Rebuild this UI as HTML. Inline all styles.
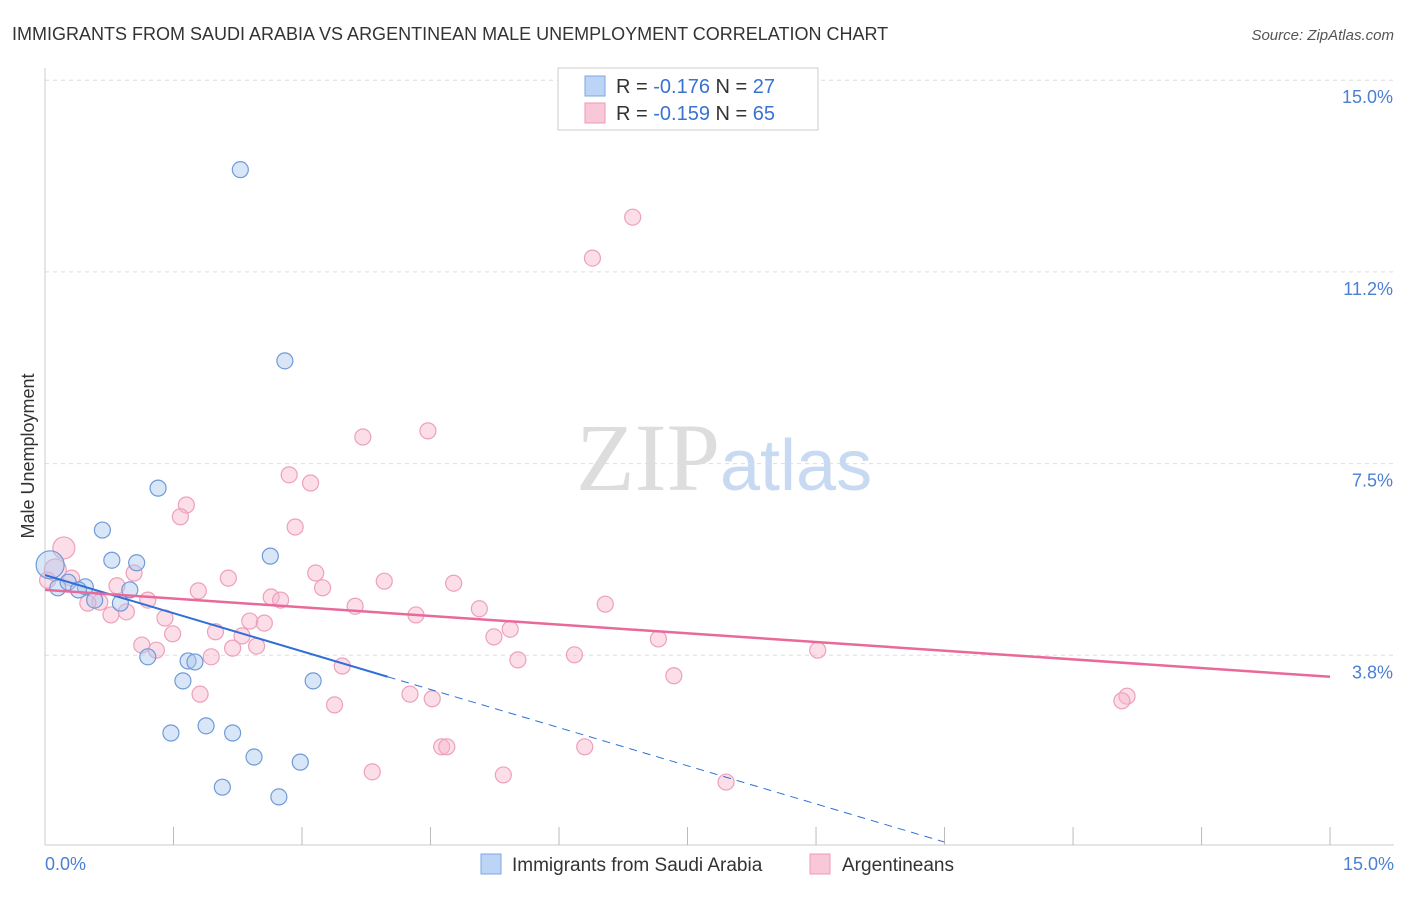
<!DOCTYPE html>
<html><head><meta charset="utf-8"><style>
body{margin:0;background:#fff;font-family:"Liberation Sans",sans-serif;}
</style></head><body>
<svg width="1406" height="892" viewBox="0 0 1406 892" xmlns="http://www.w3.org/2000/svg" font-family="Liberation Sans, sans-serif">
<text x="12" y="40" font-size="18" fill="#333">IMMIGRANTS FROM SAUDI ARABIA VS ARGENTINEAN MALE UNEMPLOYMENT CORRELATION CHART</text>
<text x="1394" y="40" font-size="15" fill="#555" font-style="italic" text-anchor="end">Source: ZipAtlas.com</text>
<text x="720" y="490" font-size="96" fill="#ddd" text-anchor="end" font-family="Liberation Serif, serif">ZIP</text>
<text x="720" y="490" font-size="72" fill="#c8daf2">atlas</text>
<g id="grid"></g>
<line x1="45" y1="68" x2="45" y2="845" stroke="#ccc"/>
<line x1="45" y1="845" x2="1394" y2="845" stroke="#ccc"/>
<g id="ticks"></g>
<text transform="translate(34,456) rotate(-90)" font-size="18" fill="#333" text-anchor="middle">Male Unemployment</text>
<text x="45" y="870" font-size="18" fill="#4a7fd4">0.0%</text>
<text x="1394" y="870" font-size="18" fill="#4a7fd4" text-anchor="end">15.0%</text>
<g id="pts"></g>
<g id="trends"></g>
<g>
<rect x="558" y="68" width="260" height="62" fill="#fff" stroke="#ccc"/>
<rect x="585" y="76" width="20" height="20" fill="#bcd4f5" stroke="#7fa6e0"/>
<text x="616" y="93" font-size="20" fill="#333">R = <tspan fill="#3a72d0">-0.176</tspan>   N = <tspan fill="#3a72d0">27</tspan></text>
<rect x="585" y="103" width="20" height="20" fill="#f9c8d8" stroke="#ee9ab5"/>
<text x="616" y="120" font-size="20" fill="#333">R = <tspan fill="#3a72d0">-0.159</tspan>   N = <tspan fill="#3a72d0">65</tspan></text>
</g>
<g>
<rect x="481" y="854" width="20" height="20" fill="#bcd4f5" stroke="#7fa6e0"/>
<text x="512" y="871" font-size="19" fill="#333">Immigrants from Saudi Arabia</text>
<rect x="810" y="854" width="20" height="20" fill="#f9c8d8" stroke="#ee9ab5"/>
<text x="842" y="871" font-size="19" fill="#333">Argentineans</text>
</g>
</svg>
<script>
const yTicks=[15.0,11.25,7.5,3.75];
const yTickLabels=["15.0%","11.2%","7.5%","3.8%"];
const xTicks=[1.5,3,4.5,6,7.5,9,10.5,12,13.5,15];
const blueX=[2.28,2.80,1.32,0.67,0.78,1.07,2.63,0.15,0.27,0.47,0.39,0.99,0.58,0.88,1.20,1.67,1.75,1.61,3.13,1.88,1.47,2.19,2.44,2.98,2.07,2.73,0.06];
const blueY=[13.25,9.51,7.02,6.20,5.61,5.56,5.69,5.07,5.18,5.09,5.03,5.03,4.83,4.77,3.72,3.64,3.62,3.25,3.25,2.37,2.23,2.23,1.76,1.66,1.17,0.98,5.52];
const pinkX=[6.86,6.39,4.47,3.71,2.85,3.10,1.65,1.58,2.92,0.22,0.12,1.04,3.16,2.14,3.96,4.77,0.84,3.24,1.79,0.31,2.64,2.75,1.20,0.64,0.50,3.62,6.54,5.07,4.33,0.77,0.95,1.40,2.39,2.56,1.99,1.49,2.30,5.43,5.24,7.16,1.13,1.30,2.47,2.19,9.02,6.18,1.94,5.52,3.47,7.34,1.81,4.26,4.52,12.63,12.57,3.38,4.63,4.69,6.30,3.82,5.35,7.95,0.03];
const pinkY=[12.32,11.52,8.14,8.02,7.28,7.12,6.69,6.46,6.26,5.85,5.42,5.36,5.36,5.26,5.20,5.16,5.11,5.07,5.01,5.26,4.89,4.83,4.83,4.79,4.77,4.71,4.75,4.66,4.54,4.54,4.60,4.48,4.42,4.38,4.21,4.17,4.13,4.26,4.11,4.07,3.95,3.85,3.93,3.89,3.85,3.76,3.72,3.66,3.54,3.35,2.99,2.99,2.90,2.95,2.86,2.78,1.96,1.96,1.96,1.47,1.41,1.27,5.22];
const blueTrend=[5.32,3.33,4.0,10.5];
const pinkTrend=[5.03,3.33,15];
const NS="http://www.w3.org/2000/svg";
const xs=v=>45+v*85.67, ys=v=>847-v*51.12;
function mk(t,a,p){const e=document.createElementNS(NS,t);for(const k in a)e.setAttribute(k,a[k]);document.getElementById(p).appendChild(e);return e;}
yTicks.forEach((t,i)=>{
 const l=mk('line',{x1:45,x2:1394,y1:ys(t),y2:ys(t),stroke:'#ddd','stroke-dasharray':'4,4'},'grid');
 
 
 const tx=mk('text',{x:1393,y:ys(t)+23,'font-size':18,fill:'#4a7fd4','text-anchor':'end'},'grid');
 tx.textContent=yTickLabels[i];
 
 
});
xTicks.forEach(t=>{
 const l=mk('line',{x1:xs(t),x2:xs(t),y1:827,y2:845,stroke:'#bbb'},'ticks');
 
 
});
pinkX.forEach((x,i)=>{
 const r=(i==9||i==10)?11:8;
 const c=mk('circle',{cx:xs(x),cy:ys(pinkY[i]),r:r,fill:'rgba(246,182,204,0.45)',stroke:'#eea0ba','stroke-width':1.2},'pts');
 
 
});
blueX.forEach((x,i)=>{
 const r=i==26?14:8;
 const c=mk('circle',{cx:xs(x),cy:ys(blueY[i]),r:r,fill:'rgba(170,200,240,0.45)',stroke:'#6f9ad8','stroke-width':1.2},'pts');
 
 
});
const bs=(blueTrend[1]-blueTrend[0])/blueTrend[2];
let l=mk('line',{x1:xs(0),y1:ys(blueTrend[0]),x2:xs(blueTrend[2]),y2:ys(blueTrend[1]),stroke:'#2f6fd6','stroke-width':2},'trends');


l=mk('line',{x1:xs(blueTrend[2]),y1:ys(blueTrend[1]),x2:xs(blueTrend[3]),y2:ys(blueTrend[0]+bs*blueTrend[3]),stroke:'#2f6fd6','stroke-width':1,'stroke-dasharray':'8,6'},'trends');


l=mk('line',{x1:xs(0),y1:ys(pinkTrend[0]),x2:xs(pinkTrend[2]),y2:ys(pinkTrend[1]),stroke:'#e8699a','stroke-width':2.5},'trends');


</script>
</body></html>
